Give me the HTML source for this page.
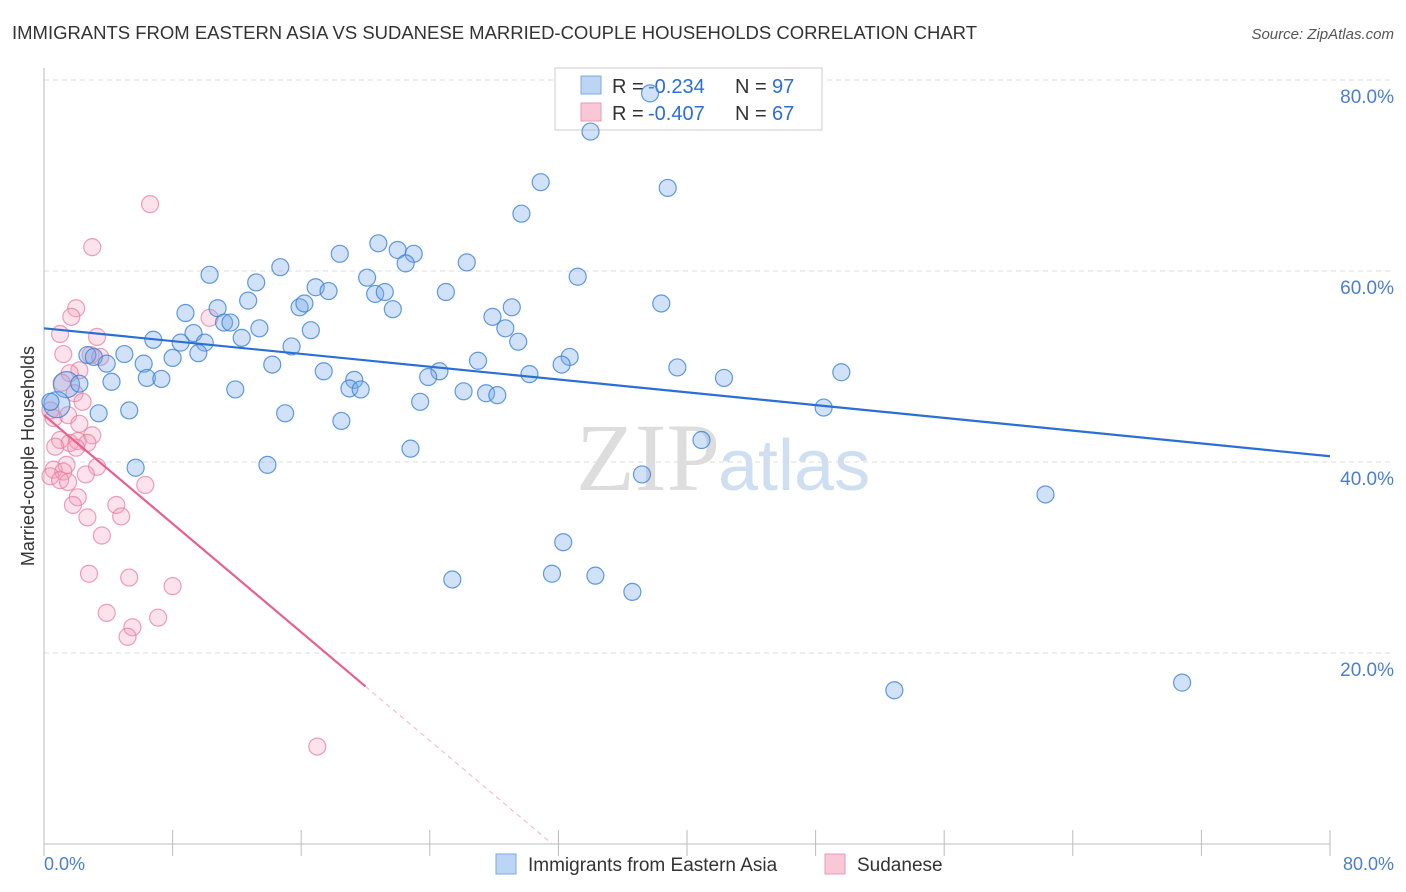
<!DOCTYPE html>
<html><head><meta charset="utf-8"><style>
body{margin:0;background:#fff;font-family:"Liberation Sans",sans-serif;}
svg{display:block}
</style></head><body>
<svg id="chart" width="1406" height="892">
<text x="12" y="39" font-size="18" fill="#333" textLength="965" lengthAdjust="spacingAndGlyphs">IMMIGRANTS FROM EASTERN ASIA VS SUDANESE MARRIED-COUPLE HOUSEHOLDS CORRELATION CHART</text>
<text x="1394" y="39" font-size="15" fill="#555" font-style="italic" text-anchor="end">Source: ZipAtlas.com</text>
<text x="0" y="0" transform="translate(34,456) rotate(-90)" font-size="18" fill="#333" text-anchor="middle">Married-couple Households</text>
<text x="720" y="490" font-size="96" fill="#ddd" font-family="Liberation Serif" text-anchor="end">ZIP</text>
<text x="718" y="490" font-size="72" fill="#cfdff2">atlas</text>
<g id="grid"></g>
<g>
<rect x="555" y="68" width="267" height="62" fill="#fff" stroke="#ccc"/>
<rect x="581" y="76" width="20" height="18" fill="#bcd5f5" stroke="#7fa9e0"/>
<text x="612" y="93" font-size="20" fill="#333">R =</text>
<text x="648" y="93" font-size="20" fill="#2b6fd6">-0.234</text>
<text x="735" y="93" font-size="20" fill="#333">N =</text>
<text x="772" y="93" font-size="20" fill="#2b6fd6">97</text>
<rect x="581" y="103" width="20" height="18" fill="#f9c7d6" stroke="#ea9ab4"/>
<text x="612" y="120" font-size="20" fill="#333">R =</text>
<text x="648" y="120" font-size="20" fill="#2b6fd6">-0.407</text>
<text x="735" y="120" font-size="20" fill="#333">N =</text>
<text x="772" y="120" font-size="20" fill="#2b6fd6">67</text>
</g>
<g id="pts"></g><g id="lines"></g>
<g>
<rect x="496" y="854" width="20" height="20" fill="#bcd5f5" stroke="#7fa9e0"/>
<text x="528" y="871" font-size="19" fill="#333">Immigrants from Eastern Asia</text>
<rect x="825" y="854" width="20" height="20" fill="#f9c7d6" stroke="#ea9ab4"/>
<text x="857" y="871" font-size="19" fill="#333">Sudanese</text>
</g>
<text x="44" y="870" font-size="18" fill="#4a7fd0">0.0%</text>
<text x="1394" y="870" font-size="18" fill="#4a7fd0" text-anchor="end">80.0%</text>
</svg>
<script>
const blueX=[37.7,34.0,30.9,38.8,29.7,20.8,18.4,22.0,23.0,22.5,26.3,14.7,10.3,13.2,33.2,20.1,16.9,17.7,25.0,20.6,21.2,12.7,15.9,16.2,10.8,21.7,8.8,29.1,38.4,27.9,11.2,11.6,16.6,13.4,9.3,28.7,12.3,6.8,8.5,10.0,15.4,29.5,9.6,5.0,2.7,3.1,8.0,32.7,6.2,3.9,14.2,27.0,32.2,24.6,39.4,49.6,17.4,30.2,6.4,7.3,23.9,19.3,42.3,4.2,1.4,2.2,19.0,19.7,11.9,26.1,27.5,28.2,23.4,0.8,0.4,5.3,3.4,15.0,48.5,18.5,22.8,40.9,13.9,5.7,37.2,62.3,32.3,25.4,31.6,34.3,36.6,52.9,70.8];
const blueY=[78.6,74.6,69.3,68.7,66.0,62.9,61.8,62.2,61.8,60.8,60.9,60.4,59.6,58.8,59.4,59.3,58.3,57.9,57.8,57.6,57.8,56.9,56.2,56.6,56.1,56.0,55.6,56.2,56.6,55.2,54.6,54.6,53.8,54.0,53.5,54.0,53.0,52.8,52.5,52.5,52.1,52.6,51.4,51.3,51.2,51.0,50.9,51.0,50.3,50.3,50.2,50.6,50.2,49.5,49.9,49.4,49.5,49.2,48.8,48.7,48.9,48.6,48.8,48.4,48.1,48.2,47.7,47.6,47.6,47.4,47.2,47.0,46.3,46.0,46.3,45.4,45.1,45.1,45.7,44.3,41.4,42.3,39.7,39.4,38.7,36.6,31.6,27.7,28.3,28.1,26.4,16.1,16.9];
const pinkX=[6.6,3.0,2.0,1.7,10.3,3.3,1.0,1.2,2.9,3.5,2.2,1.6,1.1,1.9,2.4,0.4,0.6,1.5,2.2,3.0,1.0,1.6,2.1,2.7,0.7,2.0,1.4,3.3,0.6,1.2,0.4,1.0,1.5,2.6,2.1,1.8,4.5,2.7,4.8,3.6,6.3,2.8,5.3,8.0,3.9,5.5,5.2,7.1,17.0];
const pinkY=[67.0,62.5,56.1,55.2,55.1,53.1,53.4,51.3,51.2,51.0,49.6,49.3,48.3,47.2,46.3,45.4,44.6,44.9,44.0,42.8,42.3,42.0,42.2,42.0,41.6,41.5,39.7,39.5,39.2,39.0,38.5,38.1,37.9,38.7,36.3,35.5,35.5,34.2,34.3,32.3,37.6,28.3,27.9,27.0,24.2,22.7,21.7,23.7,10.2];
const yTicks=[20,40,60,80];
const yTickLabels=["20.0%","40.0%","60.0%","80.0%"];
const blueTrend=[54.0,40.6];
const pinkTrend=[44.9,-1.42];
const NS='http://www.w3.org/2000/svg';
const sx=v=>44+v*(1286/80), sy=v=>844-v*(764/80);
function mk(t,a,p){const e=document.createElementNS(NS,t);for(const k in a)e.setAttribute(k,a[k]);p.appendChild(e);return e;}
const g=document.getElementById('grid');
yTicks.forEach((t,i)=>{
 const l=mk('line',{x1:44,x2:1394,y1:sy(t),y2:sy(t),stroke:'#ddd','stroke-dasharray':'5,4'},g);
 
 
 const tx=mk('text',{x:1394,y:sy(t)+23,'font-size':19,fill:'#4a7fd0','text-anchor':'end'},g);
 tx.textContent=yTickLabels[i];
 
 
});
const ax=mk('line',{x1:44,x2:44,y1:68,y2:844,stroke:'#bbb'},g);


const bx=mk('line',{x1:44,x2:1330,y1:844,y2:844,stroke:'#bbb'},g);


for(let i=0;i<=10;i++){const v=i*8;const tk=mk('line',{x1:sx(v),x2:sx(v),y1:830,y2:856,stroke:'#bbb'},g);
 
 }
const P=document.getElementById('pts');
pinkX.forEach((x,i)=>{const c=mk('circle',{cx:sx(x),cy:sy(pinkY[i]),r:8.5,fill:'rgba(244,160,186,0.3)',stroke:'rgba(232,120,156,0.7)','stroke-width':1.2},P);
 
 });
blueX.forEach((x,i)=>{const big=(i===64||i===73);const c=mk('circle',{cx:sx(x),cy:sy(blueY[i]),r:big?13:8.5,fill:'rgba(120,170,235,0.35)',stroke:'rgba(60,130,215,0.8)','stroke-width':1.2},P);
 
 });
const L=document.getElementById('lines');
const bl=mk('line',{x1:sx(0),y1:sy(blueTrend[0]),x2:sx(80),y2:sy(blueTrend[1]),stroke:'#2b6fd6','stroke-width':2.2},L);


const pf=x=>pinkTrend[0]+pinkTrend[1]*x;
const pl=mk('line',{x1:sx(0),y1:sy(pf(0)),x2:sx(20),y2:sy(pf(20)),stroke:'#e8608e','stroke-width':2.2},L);


const x0=-pinkTrend[0]/pinkTrend[1];
const pd=mk('line',{x1:sx(20),y1:sy(pf(20)),x2:sx(x0),y2:sy(0),stroke:'#f4b4c8','stroke-width':1,'stroke-dasharray':'5,4'},L);


</script>
</body></html>
